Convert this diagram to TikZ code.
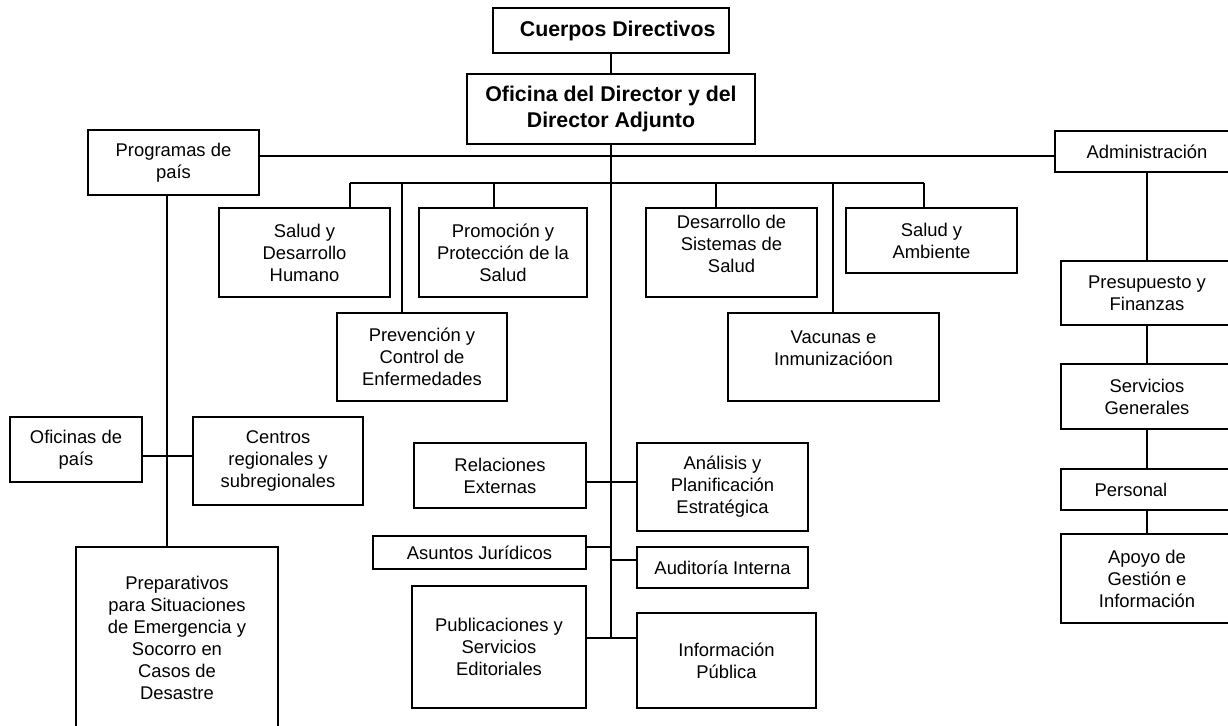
\documentclass[tikz,border=0pt]{standalone}
\usepackage{fontspec}
\setmainfont{Liberation Sans}
\usepackage{tikz}
\usetikzlibrary{calc}
\tikzset{
      unit/.style={draw, rectangle, inner sep=0pt, align=center,
                  font=\fontsize{13.8}{16.5}\selectfont},
      head/.style={unit, font=\fontsize{16}{18.8}\selectfont\bfseries},
      size/.style 2 args={minimum width=#1*0.75pt, minimum height=#2*0.75pt}
}
\begin{document}
\begin{tikzpicture}[x=0.75pt, y=-0.75pt, line width=0.9pt]
                  \useasboundingbox (0,0) rectangle (1228,725);
                  \clip (0,0) rectangle (1228,725);
                  % top of the chart
                  \node[head, size={236}{45}] (cd) at (611,30.5) {\hspace{10pt}Cuerpos Directivos};
                  \node[head, size={288}{70}] (odir) at (611,109) {Oficina del Director y del\\Director Adjunto};
                  \node[unit, size={171}{65}] (prog) at (173.5,162.5) {Programas de\\país};
                  \node[unit, size={184}{41}] (admin) at (1147,151.5) {Administración};
                  % technical areas
                  \node[unit, size={171}{89}] (sdh) at (304.5,252.5) {Salud y\\Desarrollo\\Humano};
                  \node[unit, size={168}{89}] (pps) at (503,252.5) {Promoción y\\Protección de la\\Salud};
                  \node[unit, size={171}{89}] (dss) at (731.5,252.5) {Desarrollo de\\Sistemas de\\Salud\\[-3pt]};
                  \node[unit, size={171}{65}] (sam) at (931.5,240.5) {Salud y\\Ambiente};
                  \node[unit, size={170}{88}] (pce) at (422,357) {Prevención y\\Control de\\Enfermedades};
                  \node[unit, size={211}{88}] (vac) at (833.5,357) {Vacunas e\\Inmunizacióon\\[-3pt]};
                  % administration
                  \node[unit, size={172}{64}] (pf) at (1147,293) {Presupuesto y\\Finanzas};
                  \node[unit, size={172}{65}] (sg) at (1147,396.5) {Servicios\\Generales};
                  \node[unit, size={172}{41}] (per) at (1147,489.5) {Personal\hspace{24pt}};
                  \node[unit, size={172}{89}] (ago) at (1147,578.5) {Apoyo de\\Gestión e\\Información};
                  % country programs
                  \node[unit, size={132}{65}] (ofp) at (76,449.5) {Oficinas de\\país};
                  \node[unit, size={170}{88}] (crs) at (278,461) {Centros\\regionales y\\subregionales};
                  \node[unit, size={202}{181}] (prep) at (177,637.5) {Preparativos\\para Situaciones\\de Emergencia y\\Socorro en\\Casos de\\Desastre};
                  % offices on the trunk
                  \node[unit, size={172}{65}] (rel) at (500,475.5) {Relaciones\\Externas};
                  \node[unit, size={171}{88}] (ana) at (722.5,487) {Análisis y\\Planificación\\Estratégica};
                  \node[unit, size={213}{33}] (aju) at (479.5,552.5) {Asuntos Jurídicos};
                  \node[unit, size={171}{41}] (aud) at (722.5,567.5) {Auditoría Interna};
                  \node[unit, size={174}{122}] (pub) at (499,647) {Publicaciones y\\Servicios\\Editoriales};
                  \node[unit, size={179}{95}] (inf) at (726.5,660.5) {Información\\Pública};

                  % lines
                  \coordinate (trunk) at (611,638);
                  \draw (cd) -- (odir);
                  \draw (odir.south) -- (trunk);
                  \draw (prog.east |- 0,156) -- (admin.west |- 0,156);
                  \draw (350,183) -- (924,183);
                  \foreach \n/\x in {sdh/350, pce/402, pps/494, dss/716, vac/833, sam/924}
                        {
                        \coordinate (d-\n) at (\x,183);
                        \draw (d-\n) -- (d-\n |- \n.north);
                        }
                  \foreach \a/\b in {admin/pf, pf/sg, sg/per, per/ago}
                        \draw (\a.south -| \b.north) -- (\b.north);
                  \draw (prog.south -| 167,0) -- (prep.north -| 167,0);
                  \draw (ofp.east |- 0,456) -- (crs.west |- 0,456);
                  \draw (rel.east |- 0,482) -- (ana.west |- 0,482);
                  \draw (aju.east |- 0,547) -- (trunk |- 0,547);
                  \draw (trunk |- 0,560) -- (aud.west |- 0,560);
                  \draw (pub.east |- trunk) -- (inf.west |- trunk);
\end{tikzpicture}
\end{document}
